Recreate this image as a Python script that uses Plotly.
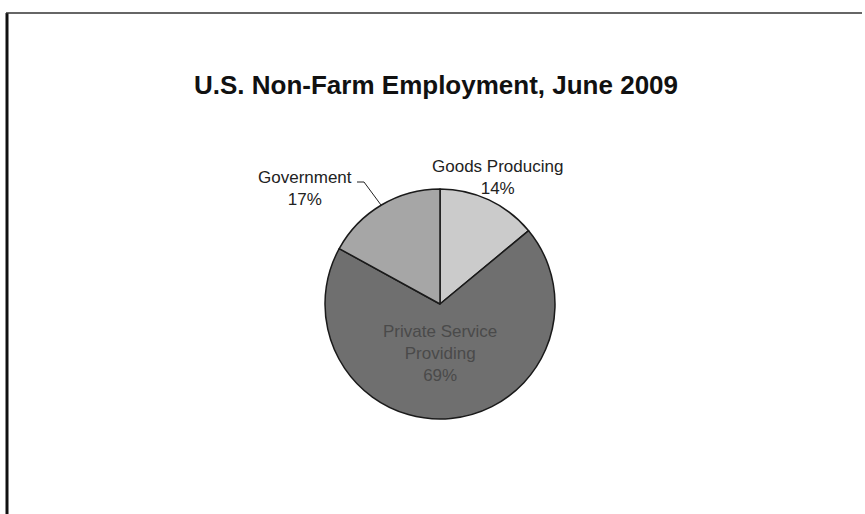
import plotly.graph_objects as go

labels = ["Goods Producing", "Private Service Providing", "Government"]
values = [14, 69, 17]
colors = ["#cbcbcb", "#6f6f6f", "#a6a6a6"]
title = "U.S. Non-Farm Employment, June 2009"

W, H = 865, 514
cx, cy, r = 440, 304, 115

fig = go.Figure(go.Pie(
    labels=labels, values=values, sort=False, direction="clockwise", rotation=0,
    marker=dict(colors=colors, line=dict(color="#1a1a1a", width=1.5)),
    textinfo="none", hoverinfo="label+percent", showlegend=False,
    domain=dict(x=[(cx - r) / W, (cx + r) / W], y=[(H - cy - r) / H, (H - cy + r) / H]),
))

total = sum(values)
pct = [f"{round(v / total * 100)}%" for v in values]

def px(x, y):
    return x / W, 1 - y / H

font = "Liberation Sans, Arial, sans-serif"
anns = []

def add(xp, yp, text, size, color):
    x, y = px(xp, yp)
    anns.append(dict(x=x, y=y, text=text, showarrow=False, xanchor="center", yanchor="middle",
                     xref="paper", yref="paper",
                     font=dict(family=font, size=size, color=color)))

add(497, 177, f"{labels[0]}<br>{pct[0]}", 17, "#222")
add(305, 188, f"{labels[2]}<br>{pct[2]}", 17, "#222")
add(440, 353, f"Private Service<br>Providing<br>{pct[1]}", 17, "#4a4a4a")
add(436, 85, f"<b>{title}</b>", 26, "#111")

shapes = [
    # leader line for Government
    dict(type="path", xref="paper", yref="paper",
         path=f"M {357/W} {1-182/H} L {364/W} {1-182/H} L {381/W} {1-205/H}",
         line=dict(color="#222", width=1)),
    # frame
    dict(type="line", xref="paper", yref="paper", x0=7/W, x1=7/W, y0=0, y1=1 - 13/H,
         line=dict(color="#111", width=3)),
    dict(type="line", xref="paper", yref="paper", x0=6/W, x1=862/W, y0=1 - 13/H, y1=1 - 13/H,
         line=dict(color="#333", width=1.5)),
]

fig.update_layout(
    width=W, height=H, margin=dict(l=0, r=0, t=0, b=0),
    paper_bgcolor="white", plot_bgcolor="white",
    annotations=anns, shapes=shapes,
)
fig.write_html("out.html")
